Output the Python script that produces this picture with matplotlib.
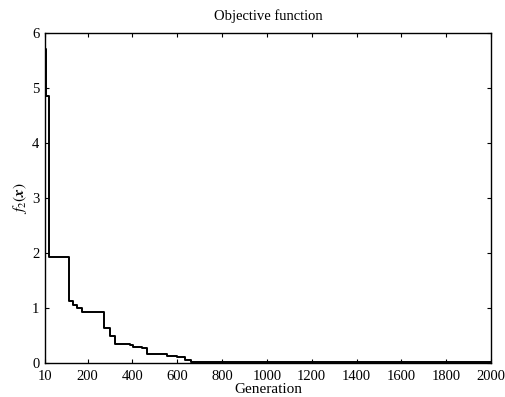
import matplotlib
matplotlib.use("Agg")
import matplotlib.pyplot as plt

plt.rcParams["font.family"] = ["Liberation Serif", "DejaVu Serif"]
plt.rcParams["mathtext.fontset"] = "stix"

# step changes of the best objective value (generation, value)
gen = [10, 14, 29, 118, 136, 151, 174, 275, 300, 322, 389, 404, 444, 464, 553, 598, 635, 660, 860, 1910, 2000]
f2 = [5.70, 4.85, 1.92, 1.13, 1.05, 1.00, 0.93, 0.64, 0.50, 0.35, 0.33, 0.30, 0.27, 0.17, 0.13, 0.11, 0.06, 0.02, 0.02, 0.025, 0.025]
xticks = [10, 200, 400, 600, 800, 1000, 1200, 1400, 1600, 1800, 2000]

fig = plt.figure(figsize=(5.05, 3.97), dpi=100)
ax = fig.add_axes([0.0891, 0.0856, 0.8832, 0.8313])
ax.step(gen, f2, where="post", color="black", lw=1.4)

ax.set_xlim(10, 2000)
ax.set_ylim(0, 6)
ax.set_xticks(xticks)
ax.set_yticks(range(7))
ax.tick_params(direction="in", top=True, right=True, labelsize=10.5, length=3)
ax.tick_params(axis="x", pad=5)
ax.tick_params(axis="y", pad=4)
for s in ax.spines.values():
    s.set_linewidth(1.0)

ax.set_title("Objective function", fontsize=10.5, pad=9)
ax.set_xlabel("Generation", fontsize=11, labelpad=0)
ax.set_ylabel(r"$f_2(\mathbfit{x})$", fontsize=11, labelpad=2)

fig.savefig("out.png", dpi=100, facecolor="white")
